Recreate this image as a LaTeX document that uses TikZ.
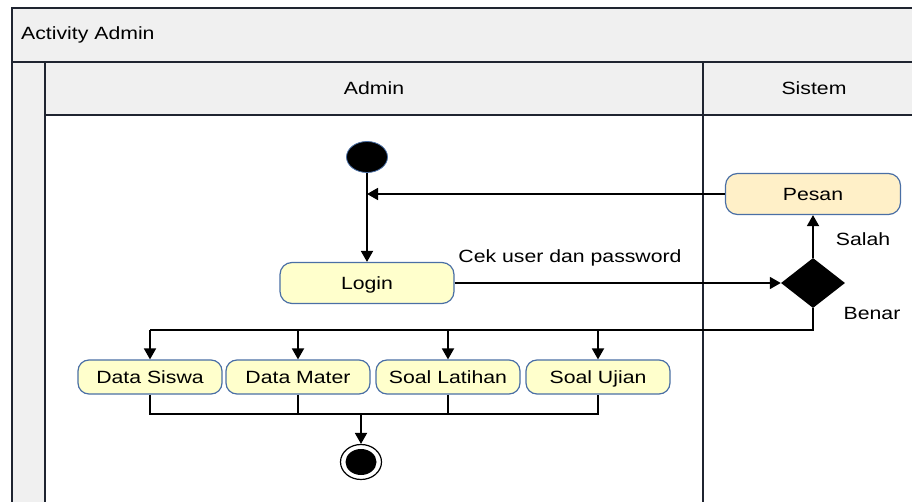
\documentclass[tikz,border=0pt]{standalone}
\usepackage{fontspec}
\setmainfont{Liberation Sans}[FakeStretch=1.2]
\usetikzlibrary{shapes.geometric,arrows.meta}
\definecolor{lanegray}{HTML}{F0F0F0}
\definecolor{frameline}{HTML}{1F2430}
\definecolor{actfill}{HTML}{FFFFCC}
\definecolor{msgfill}{HTML}{FFF0C8}
\definecolor{actline}{HTML}{4A6FA5}
\tikzset{
  lbl/.style={font=\fontsize{17.7}{20}\selectfont, inner sep=0pt,
    text height=12.7pt, text depth=0pt},
  activity/.style={draw=actline, line width=1.2pt, rounded corners=12pt,
    fill=actfill, font=\fontsize{17.7}{20}\selectfont, inner sep=0pt,
    text height=12.7pt, text depth=0pt},
  flow/.style={line width=1.8pt},
  arr/.style={flow, -{Triangle[length=11pt,width=12pt]}},
  laneline/.style={draw=frameline, line width=1.8pt},
}
\begin{document}
\begin{tikzpicture}[x=1pt,y=-1pt]
\useasboundingbox (0,0) rectangle (912,502);
\clip (0,0) rectangle (912,502);
% swimlane frame
\fill[lanegray] (12,8) rectangle (930,115);
\fill[lanegray] (12,62) rectangle (45,520);
\draw[laneline] (930,8) -- (12,8) -- (12,520);
\draw[laneline] (12,62) -- (930,62);
\draw[laneline] (45,115) -- (930,115);
\draw[laneline] (45,62) -- (45,520);
\draw[laneline] (703,62) -- (703,520);
\node[lbl, anchor=west] (title) at (21,33) {Activity Admin};
\node[lbl] (laneadmin) at (374,88) {Admin};
\node[lbl] (lanesys) at (814,88) {Sistem};

% start node
\node[ellipse, fill=black, draw=actline, line width=0.8pt, minimum width=41pt,
  minimum height=31pt, inner sep=0pt] (start) at (367,157) {};
% activities
\node[activity, minimum width=174pt, minimum height=41pt] (login) at (367,283) {Login};
\node[activity, fill=msgfill, minimum width=175pt, minimum height=41pt] (pesan) at (813,194) {Pesan};
\node[diamond, fill=black, minimum width=64pt, minimum height=50pt, inner sep=0pt] (cek) at (813,283) {};
\node[activity, rounded corners=11pt, minimum width=144pt, minimum height=34pt] (siswa) at (150,377) {Data Siswa};
\node[activity, rounded corners=11pt, minimum width=144pt, minimum height=34pt] (materi) at (298,377) {Data Mater};
\node[activity, rounded corners=11pt, minimum width=144pt, minimum height=34pt] (latihan) at (448,377) {Soal Latihan};
\node[activity, rounded corners=11pt, minimum width=144pt, minimum height=34pt] (ujian) at (598,377) {Soal Ujian};
% end node
\node[ellipse, fill=white, draw=black, line width=1.2pt, minimum width=41pt,
  minimum height=35pt, inner sep=0pt] (end) at (361,462) {};
\node[ellipse, fill=black, minimum width=31pt, minimum height=26pt, inner sep=0pt] (endcore) at (end.center) {};

% flows
\draw[arr] (start) -- (login);
\coordinate (back) at (start.south |- pesan.west);
\draw[arr] (pesan.west) -- (back);
\draw[arr] (login) -- (cek.west);
\draw[arr] (cek.north) -- (pesan.south);
\node[lbl] (ceklbl) at (570,256) {Cek user dan password};
\node[lbl] (salah) at (863,239) {Salah};
\node[lbl] (benar) at (872,313) {Benar};

% fork to the four activities
\coordinate (fork) at (813,330);
\draw[flow] (cek.south) -- (fork) -- (fork -| siswa.north);
\draw[arr] (fork -| siswa.north) -- (siswa.north);
\draw[arr] (fork -| materi.north) -- (materi.north);
\draw[arr] (fork -| latihan.north) -- (latihan.north);
\draw[arr] (fork -| ujian.north) -- (ujian.north);

% join into the end node
\coordinate (join) at (361,414);
\draw[flow] (siswa.south) -- (siswa.south |- join) -- (ujian.south |- join) -- (ujian.south);
\draw[flow] (materi.south) -- (materi.south |- join);
\draw[flow] (latihan.south) -- (latihan.south |- join);
\draw[arr] (join) -- (end.north);
\end{tikzpicture}
\end{document}
